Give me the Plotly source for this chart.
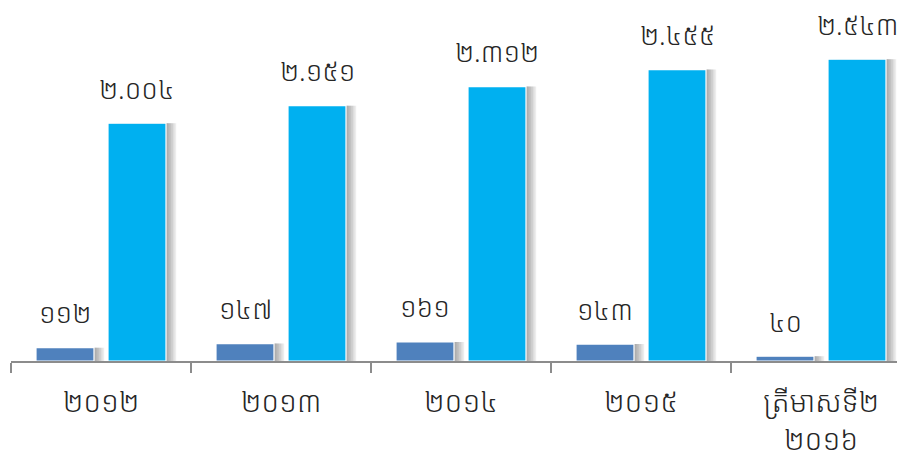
import plotly.graph_objects as go

categories = ["២០១២", "២០១៣", "២០១៤", "២០១៥", "ត្រីមាសទី២<br>២០១៦"]
small_values = [112, 147, 161, 143, 40]
large_values = [2004, 2151, 2312, 2455, 2543]
small_labels = ["១១២", "១៤៧", "១៦១", "១៤៣", "៤០"]
large_labels = ["២.០០៤", "២.១៥១", "២.៣១២", "២.៤៥៥", "២.៥៤៣"]

FONT = "Noto Sans Khmer, Khmer OS System, Khmer OS, sans-serif"
PX = 1 / 180.0
BAR_W = 58 * PX
OFF_SMALL = -65 * PX
OFF_LARGE = 7 * PX

fig = go.Figure()

# soft drop shadows
for vals, off in [(small_values, OFF_SMALL), (large_values, OFF_LARGE)]:
    for k in range(1, 7):
        fig.add_trace(go.Bar(
            x=categories, y=vals, width=BAR_W, offset=off + (1.7 * k) * PX,
            marker=dict(color="rgba(90,90,90,0.11)", line=dict(width=0)),
            hoverinfo="skip", showlegend=False))

fig.add_trace(go.Bar(
    x=categories, y=small_values, width=BAR_W, offset=OFF_SMALL,
    marker=dict(color="#4F81BD", line=dict(color="white", width=1.2)),
    showlegend=False))
fig.add_trace(go.Bar(
    x=categories, y=large_values, width=BAR_W, offset=OFF_LARGE,
    marker=dict(color="#00B0F0", line=dict(color="white", width=1.2)),
    showlegend=False))

label_font = dict(size=27, color="#262626", family=FONT, weight=300)
annotations = []
for c, v, t in zip(categories, small_values, small_labels):
    annotations.append(dict(x=c, y=v, text=t, showarrow=False, xshift=-36, yshift=35,
                            xanchor="center", yanchor="middle", font=label_font))
for c, v, t in zip(categories, large_values, large_labels):
    annotations.append(dict(x=c, y=v, text=t, showarrow=False, xshift=36, yshift=35,
                            xanchor="center", yanchor="middle", font=label_font))

fig.update_layout(
    width=897, height=449,
    margin=dict(l=3, r=0, t=0, b=96),
    barmode="overlay",
    plot_bgcolor="white", paper_bgcolor="white",
    annotations=annotations,
    font=dict(family=FONT, color="#262626"),
    xaxis=dict(
        type="category", range=[-0.5, 4.5 - 6 * PX],
        showline=True, linecolor="#8C8C8C", linewidth=2,
        ticks="outside", tickson="boundaries", ticklen=10, tickcolor="#8C8C8C", tickwidth=2,
        ticklabelstandoff=14,
        tickfont=dict(size=29, color="#262626", family=FONT, weight=300),
        showgrid=False, zeroline=False,
    ),
    yaxis=dict(range=[0, 353 / 0.1187], visible=False, showgrid=False, zeroline=False),
)

fig.write_html("out.html")
